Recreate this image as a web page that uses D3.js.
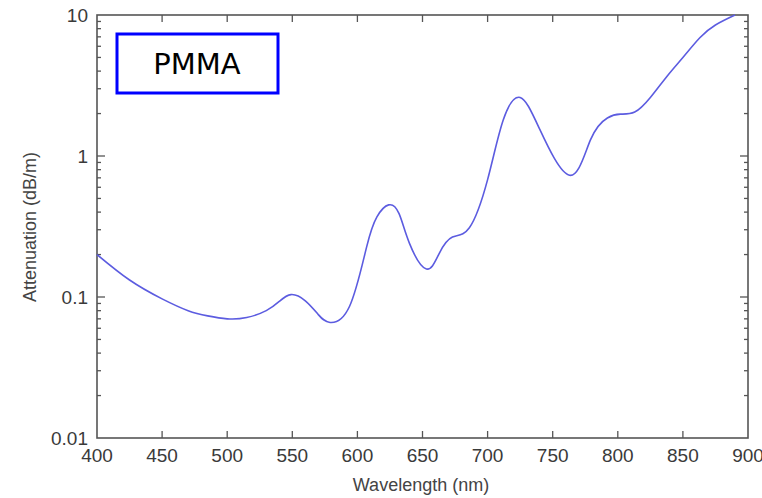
<!DOCTYPE html>
<html>
<head>
<meta charset="utf-8">
<script src="https://cdn.jsdelivr.net/npm/d3@7"></script>
<style>
  body { margin: 0; background: #fff; }
  text { font-family: "Liberation Sans", Arial, sans-serif; }
</style>
</head>
<body>
<script>
// attenuation spectrum
var wavelength = [400, 425, 450, 470, 485, 500, 515, 530, 540, 549, 560, 570, 579, 594, 607, 615, 624, 632, 640, 653, 663, 673, 686, 700, 712, 725, 740, 763, 779, 792, 802, 813, 825, 838, 850, 863, 875, 890];
var attenuation = [0.2, 0.132, 0.097, 0.080, 0.0735, 0.070, 0.0715, 0.080, 0.093, 0.104, 0.094, 0.075, 0.066, 0.086, 0.225, 0.37, 0.45, 0.39, 0.24, 0.158, 0.205, 0.266, 0.31, 0.68, 1.8, 2.6, 1.55, 0.73, 1.3, 1.86, 1.98, 2.05, 2.6, 3.7, 5.0, 6.9, 8.5, 10];
var xTicks = [400, 450, 500, 550, 600, 650, 700, 750, 800, 850, 900];
var yTicks = [0.01, 0.1, 1, 10];
var yTickLabels = ["0.01", "0.1", "1", "10"];

var width = 762, height = 498;
var margin = {left: 97, right: 14, top: 15, bottom: 60};

var svg = d3.select("body").append("svg")
    .attr("width", width)
    .attr("height", height);

var x = d3.scaleLinear().domain([400, 900]).range([margin.left, width - margin.right]);
var y = d3.scaleLog().domain([0.01, 10]).range([height - margin.bottom, margin.top]);

var axisColor = "#555";

// minor log ticks for left/right
var minor = [];
[0.01, 0.1, 1].forEach(function(d){
    for (var k = 2; k <= 9; k++) minor.push(d * k);
});

var x0 = x.range()[0], x1 = x.range()[1], y0 = y.range()[0], y1 = y.range()[1];

//frame
svg.append("rect")
    .attr("x", x0).attr("y", y1)
    .attr("width", x1 - x0).attr("height", y0 - y1)
    .attr("fill", "none")
    .attr("stroke", axisColor)
    .attr("stroke-width", 1.6);

var ticks = svg.append("g").attr("stroke", axisColor).attr("stroke-width", 1.3);

//x ticks (top and bottom, inward)
xTicks.slice(1, -1).forEach(function(d){
    ticks.append("line").attr("x1", x(d)).attr("x2", x(d)).attr("y1", y0).attr("y2", y0 - 7);
    ticks.append("line").attr("x1", x(d)).attr("x2", x(d)).attr("y1", y1).attr("y2", y1 + 7);
});

//y ticks (left and right, inward)
yTicks.slice(1, -1).forEach(function(d){
    ticks.append("line").attr("x1", x0).attr("x2", x0 + 8).attr("y1", y(d)).attr("y2", y(d));
    ticks.append("line").attr("x1", x1).attr("x2", x1 - 8).attr("y1", y(d)).attr("y2", y(d));
});
minor.forEach(function(d){
    ticks.append("line").attr("x1", x0).attr("x2", x0 + 4).attr("y1", y(d)).attr("y2", y(d));
    ticks.append("line").attr("x1", x1).attr("x2", x1 - 4).attr("y1", y(d)).attr("y2", y(d));
});

//tick labels
svg.selectAll(".xlab")
    .data(xTicks)
    .enter()
    .append("text")
    .attr("class", "xlab")
    .attr("x", function(d){ return x(d); })
    .attr("y", y0 + 24)
    .attr("text-anchor", "middle")
    .attr("font-size", "19px")
    .attr("fill", "#3a3a3a")
    .text(function(d){ return d; });

svg.selectAll(".ylab")
    .data(yTicks)
    .enter()
    .append("text")
    .attr("class", "ylab")
    .attr("x", x0 - 9)
    .attr("y", function(d){ return y(d) + 7; })
    .attr("text-anchor", "end")
    .attr("font-size", "19px")
    .attr("fill", "#3a3a3a")
    .text(function(d, i){ return yTickLabels[i]; });

//axis titles
svg.append("text")
    .attr("x", 421)
    .attr("y", 491)
    .attr("text-anchor", "middle")
    .attr("font-size", "18px")
    .attr("fill", "#444")
    .text("Wavelength (nm)");

svg.append("text")
    .attr("transform", "translate(36,227) rotate(-90)")
    .attr("text-anchor", "middle")
    .attr("font-size", "18px")
    .attr("fill", "#444")
    .text("Attenuation (dB/m)");

//curve
var line = d3.line()
    .x(function(d, i){ return x(wavelength[i]); })
    .y(function(d){ return y(d); })
    .curve(d3.curveNatural);

svg.append("path")
    .datum(attenuation)
    .attr("fill", "none")
    .attr("stroke", "#5c5ce0")
    .attr("stroke-width", 1.6)
    .attr("d", line);

//label box
svg.append("rect")
    .attr("x", 117).attr("y", 34)
    .attr("width", 161).attr("height", 59)
    .attr("fill", "#fff")
    .attr("stroke", "#0000ff")
    .attr("stroke-width", 3);

svg.append("text")
    .attr("x", 197)
    .attr("y", 74)
    .attr("text-anchor", "middle")
    .attr("font-size", "29px")
    .attr("fill", "#000")
    .style("font-family", "'DejaVu Sans', Verdana, sans-serif")
    .text("PMMA");
</script>
</body>
</html>
